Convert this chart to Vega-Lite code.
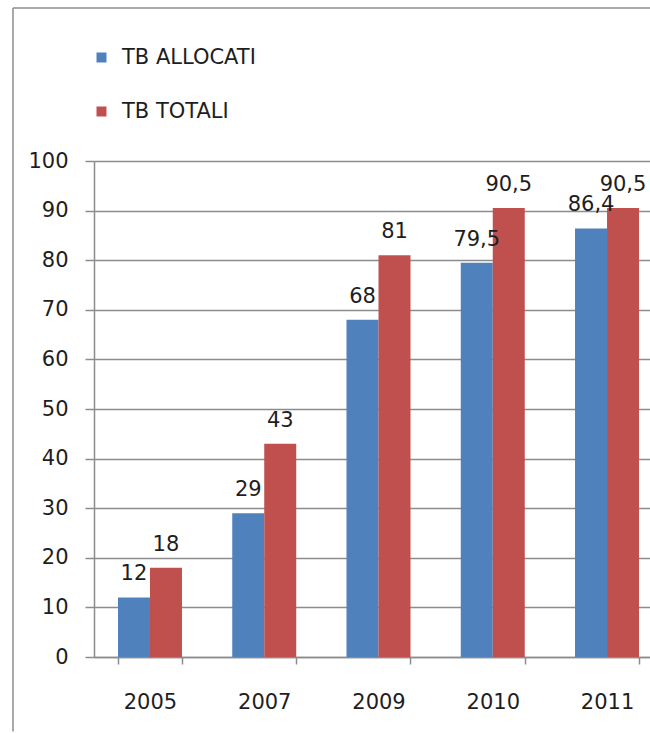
{
  "$schema": "https://vega.github.io/schema/vega-lite/v6.json",
  "width": 556,
  "height": 496,
  "autosize": {"type": "pad"},
  "padding": {"left": 12, "top": 7, "right": 0, "bottom": 0},
  "background": "white",
  "config": {
    "font": "DejaVu Sans",
    "view": {"stroke": null},
    "locale": {"number": {"decimal": ",", "thousands": ".", "grouping": [3], "currency": ["", " €"]}},
    "axis": {"labelFont": "DejaVu Sans", "labelFontSize": 21, "labelColor": "#1e1e1e", "domainColor": "#8c8c8c", "tickColor": "#8c8c8c", "gridColor": "#8c8c8c", "domainWidth": 1.5, "tickWidth": 1.5, "gridWidth": 1.5}
  },
  "datasets": {
    "bars": [
      {"anno": "2005", "serie": "TB ALLOCATI", "tb": 12},
      {"anno": "2005", "serie": "TB TOTALI", "tb": 18},
      {"anno": "2007", "serie": "TB ALLOCATI", "tb": 29},
      {"anno": "2007", "serie": "TB TOTALI", "tb": 43},
      {"anno": "2009", "serie": "TB ALLOCATI", "tb": 68},
      {"anno": "2009", "serie": "TB TOTALI", "tb": 81},
      {"anno": "2010", "serie": "TB ALLOCATI", "tb": 79.5},
      {"anno": "2010", "serie": "TB TOTALI", "tb": 90.5},
      {"anno": "2011", "serie": "TB ALLOCATI", "tb": 86.4},
      {"anno": "2011", "serie": "TB TOTALI", "tb": 90.5}
    ],
    "frame": [
      {"side": "left", "x": -0.1457, "x2": -0.1457, "y": 130.85, "y2": -15},
      {"side": "top", "x": -0.1457, "x2": 1, "y": 130.85, "y2": 130.85}
    ]
  },
  "layer": [
    {
      "data": {"name": "frame"},
      "mark": {"type": "rule", "color": "#8c8c8c", "strokeWidth": 1.5},
      "encoding": {
        "x": {"field": "x", "type": "quantitative", "scale": {"domain": [0, 1], "nice": false, "zero": false}, "axis": null},
        "x2": {"field": "x2"},
        "y": {"field": "y", "type": "quantitative", "scale": {"domain": [0, 100], "nice": false}},
        "y2": {"field": "y2"}
      }
    },
    {
      "data": {"name": "bars"},
      "layer": [
        {
          "mark": {"type": "bar"},
          "encoding": {
            "x": {
              "field": "anno", "type": "nominal",
              "scale": {"paddingInner": 0.44, "paddingOuter": 0.153, "align": 0.686},
              "axis": {"title": null, "labelAngle": 0, "tickBand": "extent", "tickSize": 7, "labelPadding": 27, "grid": false}
            },
            "xOffset": {"field": "serie", "type": "nominal", "scale": {"paddingInner": 0, "paddingOuter": 0}},
            "y": {
              "field": "tb", "type": "quantitative",
              "scale": {"domain": [0, 100], "nice": false},
              "axis": {"title": null, "values": [0, 10, 20, 30, 40, 50, 60, 70, 80, 90, 100], "tickSize": 9, "labelPadding": 17, "grid": true}
            },
            "color": {
              "field": "serie", "type": "nominal",
              "scale": {"domain": ["TB ALLOCATI", "TB TOTALI"], "range": ["#4f81bd", "#c0504d"]},
              "legend": {"title": null, "orient": "none", "legendX": -3, "legendY": -114, "padding": 0, "symbolType": "square", "symbolSize": 100, "symbolStrokeWidth": 0, "labelFontSize": 21, "labelColor": "#1e1e1e", "labelFont": "DejaVu Sans", "rowPadding": 32, "labelOffset": 10}
            }
          }
        },
        {
          "mark": {"type": "text", "baseline": "alphabetic", "dy": -17, "fontSize": 21, "color": "#1e1e1e"},
          "encoding": {
            "x": {"field": "anno", "type": "nominal"},
            "xOffset": {"field": "serie", "type": "nominal"},
            "y": {"field": "tb", "type": "quantitative"},
            "text": {"field": "tb", "type": "quantitative", "format": "~g"}
          }
        }
      ]
    }
  ],
  "resolve": {"scale": {"x": "independent"}}
}
